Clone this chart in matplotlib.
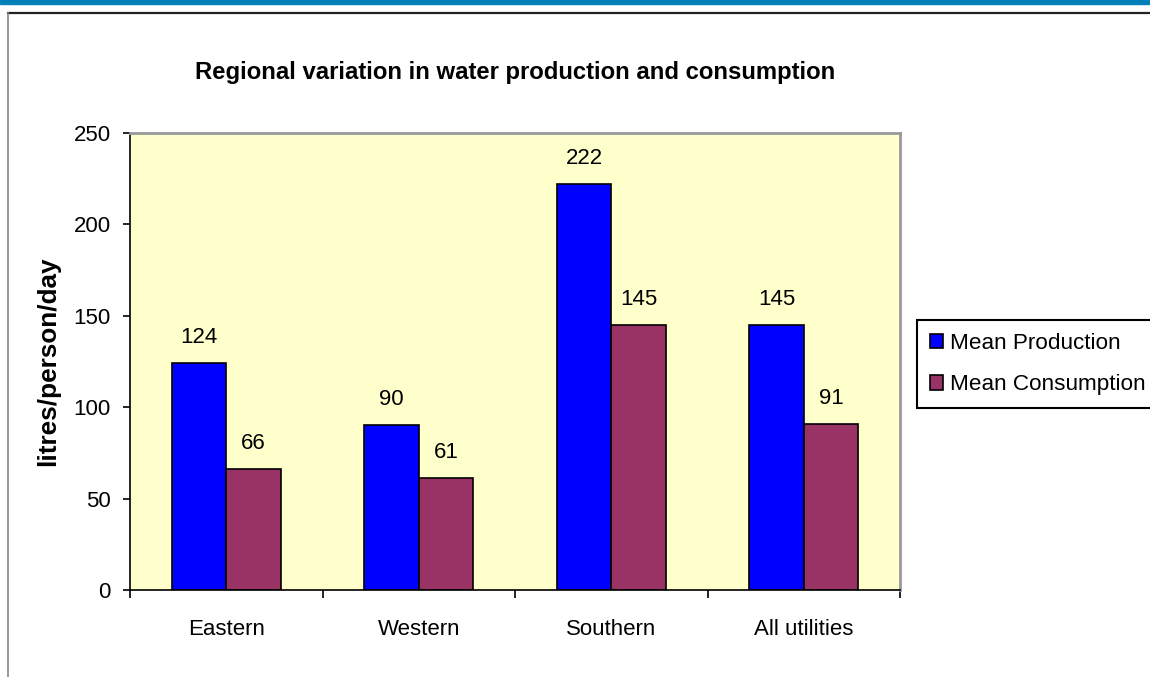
import numpy as np
import matplotlib.pyplot as plt
from matplotlib.lines import Line2D
from matplotlib.patches import Rectangle

# datos del grafico
regions = ['Eastern', 'Western', 'Southern', 'All utilities']
production = [124, 90, 222, 145]
consumption = [66, 61, 145, 91]
series_names = ['Mean Production', 'Mean Consumption']

plt.rcParams['font.family'] = ['Liberation Sans', 'DejaVu Sans']

fig = plt.figure(figsize=(11.5, 6.77), dpi=100)
ax = fig.add_axes([130/1150, 87/677, 770/1150, 457/677])
ax.set_facecolor('#FFFFCC')

# marco de la pagina
fig.patches.append(Rectangle((0, 1 - 4/677), 1, 4/677, transform=fig.transFigure,
                             color='#0080B8', zorder=0))
fig.lines.append(Line2D([8/1150, 1], [1 - 13/677, 1 - 13/677], transform=fig.transFigure,
                        color='#222222', lw=1.6))
fig.lines.append(Line2D([8/1150, 8/1150], [0, 1 - 13/677], transform=fig.transFigure,
                        color='#888888', lw=1.2))

x = np.arange(len(regions))
w = 0.283
b1 = ax.bar(x - w/2, production, w, color='#0000FF', edgecolor='black', lw=1.2,
            label=series_names[0])
b2 = ax.bar(x + w/2, consumption, w, color='#993366', edgecolor='black', lw=1.2,
            label=series_names[1])

for bars, vals in [(b1, production), (b2, consumption)]:
    for r, v in zip(bars, vals):
        ax.annotate(str(v), (r.get_x() + r.get_width()/2, v), xytext=(0, 14.5),
                    textcoords='offset points', ha='center', va='baseline', fontsize=16)

ax.set_xlim(-0.5, len(regions) - 0.5)
ax.set_ylim(0, 250)
ax.set_yticks([0, 50, 100, 150, 200, 250])
ax.set_xticks(np.arange(len(regions) + 1) - 0.5)
ax.set_xticklabels([])
ax.set_xticks(x, minor=True)
ax.set_xticklabels(regions, minor=True)
ax.tick_params(axis='x', which='major', direction='out', length=6, width=1.2)
ax.tick_params(axis='x', which='minor', length=0, pad=21, labelsize=16)
ax.tick_params(axis='y', direction='out', length=5, width=1.2, pad=9, labelsize=16)

for s in ['top', 'right']:
    ax.spines[s].set_color('#999999')
    ax.spines[s].set_linewidth(2)
for s in ['left', 'bottom']:
    ax.spines[s].set_color('black')
    ax.spines[s].set_linewidth(1.2)

ax.set_ylabel('litres/person/day', fontsize=18.8, fontweight='bold', labelpad=9.5)
fig.text(515/1150, 1 - 73/677, 'Regional variation in water production and consumption',
         ha='center', va='center', fontsize=17.2, fontweight='bold')

leg = ax.legend(loc='upper left', bbox_to_anchor=(917/1150, 1 - 320/677),
                bbox_transform=fig.transFigure, borderaxespad=0, fontsize=16.2,
                fancybox=False, frameon=True, edgecolor='black', framealpha=1,
                handlelength=0.6, handleheight=0.6, handletextpad=0.3,
                labelspacing=0.92, borderpad=0.56)
leg.get_frame().set_linewidth(1.5)

fig.savefig('out.png', dpi=100)
